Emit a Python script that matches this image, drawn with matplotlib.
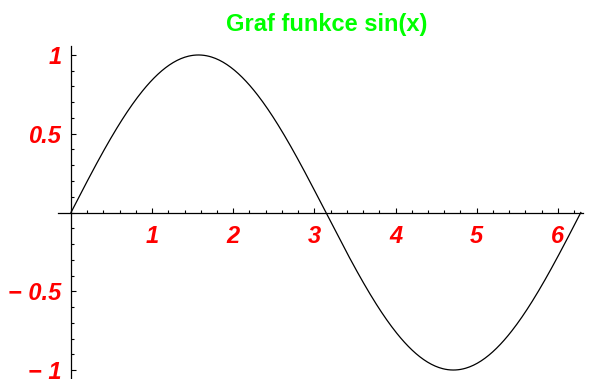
import numpy as np
import matplotlib
matplotlib.use("Agg")
import matplotlib.pyplot as plt
from matplotlib.ticker import FixedLocator, MultipleLocator

# Function graph: y = sin(x) on [0, 2*pi]
x = np.linspace(0, 2 * np.pi, 400)
y = np.sin(x)

x_major = [1, 2, 3, 4, 5, 6]
x_labels = ["1", "2", "3", "4", "5", "6"]
y_major = [-1, -0.5, 0.5, 1]
y_labels = ["\u2212 1", "\u2212 0.5", "0.5", "1"]
title = "Graf funkce sin(x)"

plt.rcParams["font.family"] = ["Liberation Sans", "DejaVu Sans"]

fig = plt.figure(figsize=(5.89, 3.79), dpi=100)
ax = fig.add_axes([58 / 589, 0.0, 525 / 589, 333 / 379])

ax.plot(x, y, color="black", lw=0.9)

ax.set_xlim(-0.16, 6.31)
ax.set_ylim(-1.057, 1.057)

for side in ("top", "right"):
    ax.spines[side].set_visible(False)
ax.spines["left"].set_position(("data", 0))
ax.spines["bottom"].set_position(("data", 0))
for side in ("left", "bottom"):
    ax.spines[side].set_linewidth(0.9)

ax.xaxis.set_major_locator(FixedLocator(x_major))
ax.xaxis.set_minor_locator(MultipleLocator(0.2))
ax.yaxis.set_major_locator(FixedLocator(y_major))
ax.yaxis.set_minor_locator(MultipleLocator(0.1))
ax.set_xticklabels(x_labels)
ax.set_yticklabels(y_labels)

ax.tick_params(axis="both", which="both", direction="in", width=0.8, color="black")
ax.tick_params(axis="both", which="major", length=3.5)
ax.tick_params(axis="both", which="minor", length=2.2)
ax.tick_params(axis="x", which="major", pad=9)
ax.tick_params(axis="y", which="major", pad=7)

for lab in ax.get_xticklabels() + ax.get_yticklabels():
    lab.set_color("#ff0000")
    lab.set_fontsize(17)
    lab.set_fontweight("bold")
    lab.set_fontstyle("italic")

fig.text(327 / 589, 1 - 25 / 379, title, color="#00ff00", fontsize=17,
         fontweight="bold", ha="center", va="center")

fig.savefig("out.png", dpi=100)
